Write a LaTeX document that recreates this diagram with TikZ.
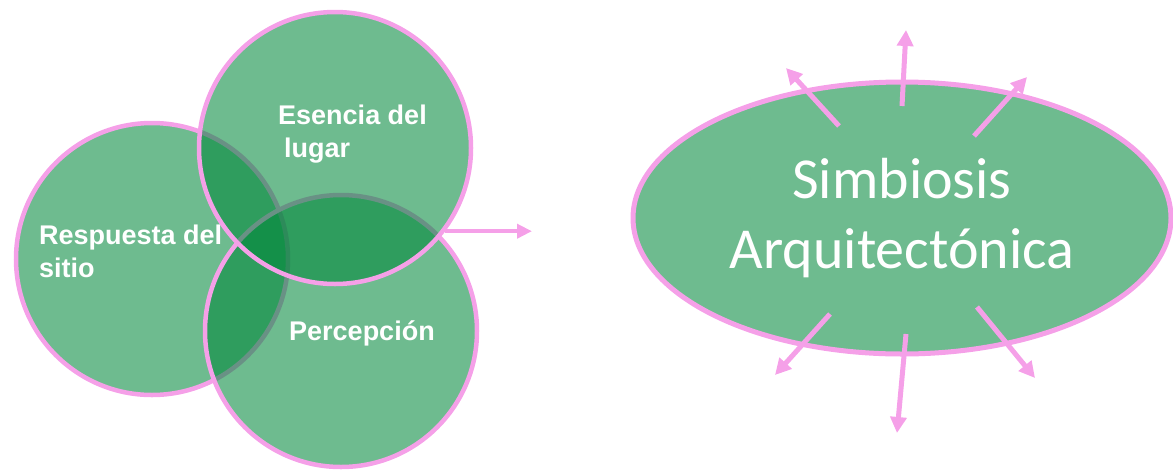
\documentclass[tikz,border=0pt]{standalone}
\usepackage{fontspec}
\setmainfont{Liberation Sans}
\newfontfamily\calfont{Carlito}
\usetikzlibrary{calc,shapes.geometric,arrows.meta}
\definecolor{leafgreen}{RGB}{0,135,58}
\definecolor{rosa}{RGB}{245,160,232}
\tikzset{
  venn/.style={circle, draw=rosa, line width=4.5pt, fill=leafgreen, fill opacity=0.57, minimum size=272pt, inner sep=0pt},
  vlabel/.style={text=white, font=\fontsize{27}{33}\selectfont\bfseries, align=left, anchor=west, inner sep=0pt},
  ray/.style={draw=rosa, line width=5pt, -{Triangle[length=16pt,width=16pt]}}
}
\begin{document}
\begin{tikzpicture}[x=1pt,y=-1pt]
		%%%%% START %%%%%
		\useasboundingbox (0,0) rectangle (1173,469);
		
		\node[venn] (respuesta) at (152,259) {};
		\node[venn] (percepcion) at (341,331) {};
		\node[venn] (esencia) at (335,148) {};
		
		\node[vlabel] (tesencia) at (278,134) {Esencia del\\\hspace*{6pt}lugar};
		\node[vlabel] (trespuesta) at (39,251) {Respuesta del\\sitio};
		\node[vlabel] (tpercepcion) at (289,333) {Percepción};
		
		\coordinate (salida) at (532,230);
		\draw[ray, line width=4.5pt, -{Triangle[length=15pt,width=14pt]}] (esencia.-37) -- (esencia.-37 -| salida);
		
		\node[ellipse, draw=rosa, line width=5pt, fill=leafgreen, fill opacity=0.57, text opacity=1,
		      minimum width=538pt, minimum height=272pt, inner sep=0pt, text=white,
		      font=\calfont\fontsize{58}{70}\selectfont, align=center] (simbiosis) at (902,218)
		      {Simbiosis\\Arquitectónica};
		
		\foreach \ax/\ay/\bx/\by in {-63/-92/-116/-150, 0/-112/4/-188, 72/-82/125/-141,
		                             -72/96/-127/157, 4/116/-5/215, 75/89/133/160}
		  \draw[ray] ($(simbiosis)+(\ax,\ay)$) -- ($(simbiosis)+(\bx,\by)$);
		
		%%%%% END %%%%%
\end{tikzpicture}
\end{document}
